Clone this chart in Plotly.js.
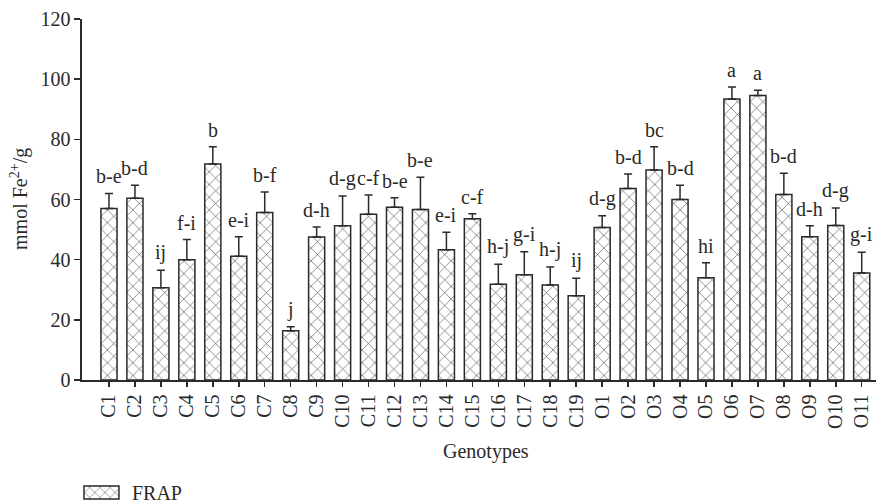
<!DOCTYPE html>
<html>
<head>
<meta charset="utf-8">
<script src="https://cdn.plot.ly/plotly-3.0.1.min.js"></script>
<style>
  html, body { margin: 0; padding: 0; background: #fff; }
  #chart { width: 876px; height: 504px; }
</style>
</head>
<body>
<div id="chart"></div>
<script>
// FRAP antioxidant capacity per genotype (mmol Fe2+/g), mean and upper SD
const genotypes = ["C1","C2","C3","C4","C5","C6","C7","C8","C9","C10",
  "C11","C12","C13","C14","C15","C16","C17","C18","C19",
  "O1","O2","O3","O4","O5","O6","O7","O8","O9","O10","O11"];
const frapMean = [57.0, 60.4, 30.7, 40.0, 71.8, 41.1, 55.7, 16.4, 47.5, 51.3,
  55.1, 57.4, 56.7, 43.3, 53.6, 31.8, 35.0, 31.6, 28.0,
  50.7, 63.7, 69.8, 60.0, 34.0, 93.4, 94.6, 61.7, 47.6, 51.4, 35.6];
const frapSD = [5.0, 4.3, 5.8, 6.7, 5.7, 6.5, 6.8, 1.3, 3.4, 9.9,
  6.4, 3.2, 10.7, 5.8, 1.7, 6.7, 7.6, 6.0, 5.8,
  3.9, 4.8, 7.7, 4.7, 5.0, 4.0, 1.7, 7.0, 3.7, 5.8, 6.9];
// Duncan grouping letters
const groups = ["b-e","b-d","ij","f-i","b","e-i","b-f","j","d-h","d-g",
  "c-f","b-e","b-e","e-i","c-f","h-j","g-i","h-j","ij",
  "d-g","b-d","bc","b-d","hi","a","a","b-d","d-h","d-g","g-i"];
const yTicks = [0, 20, 40, 60, 80, 100, 120];

const serif = "Liberation Serif, Times New Roman, serif";
const ink = "#2a2a2a";
const fs = 20;

const trace = {
  type: "bar",
  name: "FRAP",
  x: genotypes,
  y: frapMean,
  width: 0.62,
  marker: {
    color: "#ffffff",
    line: { color: ink, width: 1.5 },
    pattern: { shape: "x", size: 9, solidity: 0.12, fgcolor: "#3a3a3a", bgcolor: "#ffffff", fillmode: "replace" }
  },
  error_y: {
    type: "data",
    symmetric: false,
    array: frapSD,
    arrayminus: frapSD.map(() => 0),
    color: ink,
    thickness: 1.5,
    width: 4
  },
  hoverinfo: "x+y"
};

const annotations = genotypes.map((g, i) => ({
  x: g,
  y: frapMean[i] + frapSD[i],
  xref: "x",
  yref: "y",
  text: groups[i],
  showarrow: false,
  yanchor: "bottom",
  yshift: 4,
  font: { family: serif, size: fs, color: ink }
}));

// axis titles, positioned on the full-page paper
annotations.push({
  text: "Genotypes",
  xref: "paper", yref: "paper",
  x: 0.5548, y: 0.1032, xanchor: "center", yanchor: "middle",
  showarrow: false,
  font: { family: serif, size: fs, color: ink }
});
annotations.push({
  text: "mmol Fe<sup>2+</sup>/g",
  xref: "paper", yref: "paper",
  x: 0.0228, y: 0.6052, xanchor: "center", yanchor: "middle",
  textangle: -90,
  showarrow: false,
  font: { family: serif, size: fs, color: ink }
});

const layout = {
  width: 876,
  height: 504,
  margin: { l: 0, r: 0, t: 0, b: 0 },
  paper_bgcolor: "#ffffff",
  plot_bgcolor: "#ffffff",
  font: { family: serif, size: fs, color: ink },
  showlegend: true,
  legend: {
    xref: "paper", yref: "paper",
    x: 0.089, y: 0, xanchor: "left", yanchor: "bottom",
    itemwidth: 44,
    font: { family: serif, size: fs, color: ink },
    bgcolor: "rgba(0,0,0,0)"
  },
  xaxis: {
    type: "category",
    domain: [0.0936, 1],
    range: [-1.04, 29.55],
    automargin: false,
    showgrid: false,
    zeroline: false,
    showline: true,
    linecolor: ink,
    linewidth: 1.5,
    ticks: "outside",
    ticklen: 5,
    tickwidth: 1.5,
    tickcolor: ink,
    tickangle: -90,
    tickfont: { family: serif, size: fs, color: ink }
  },
  yaxis: {
    domain: [0.2460, 0.9623],
    range: [0, 120],
    automargin: false,
    tickvals: yTicks,
    showgrid: false,
    zeroline: false,
    showline: true,
    linecolor: ink,
    linewidth: 1.5,
    ticks: "outside",
    ticklen: 6,
    tickwidth: 1.5,
    tickcolor: ink,
    tickfont: { family: serif, size: fs, color: ink }
  },
  annotations: annotations
};

Plotly.newPlot("chart", [trace], layout, { displayModeBar: false, staticPlot: true }).then(gd => {
  // widen the legend swatch into a landscape hatched box
  gd.querySelectorAll(".legend .legendpoints path").forEach(p => {
    p.setAttribute("d", "M14,6.5H-21V-6.5H14Z");
  });
  // nudge the legend down to the bottom edge
  const leg = gd.querySelector(".legend");
  if (leg) {
    const t = leg.getAttribute("transform") || "";
    leg.setAttribute("transform", t + " translate(0,8)");
  }
});
</script>
</body>
</html>
